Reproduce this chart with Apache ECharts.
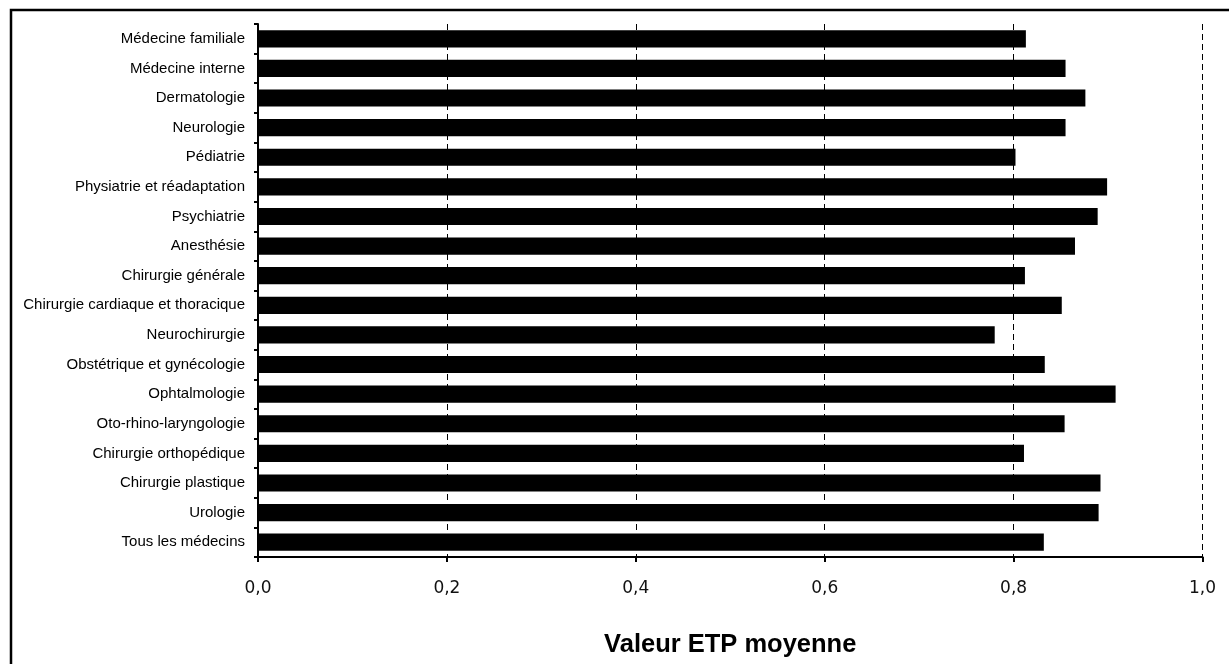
<!DOCTYPE html>
<html>
<head>
<meta charset="utf-8">
<script src="https://cdn.jsdelivr.net/npm/echarts@6/dist/echarts.min.js"></script>
<style>
html,body{margin:0;padding:0;background:#fff;}
#c{width:1229px;height:664px;}
</style>
</head>
<body>
<div id="c"></div>
<script>
const categories = [
  "Médecine familiale",
  "Médecine interne",
  "Dermatologie",
  "Neurologie",
  "Pédiatrie",
  "Physiatrie et réadaptation",
  "Psychiatrie",
  "Anesthésie",
  "Chirurgie générale",
  "Chirurgie cardiaque et thoracique",
  "Neurochirurgie",
  "Obstétrique et gynécologie",
  "Ophtalmologie",
  "Oto-rhino-laryngologie",
  "Chirurgie orthopédique",
  "Chirurgie plastique",
  "Urologie",
  "Tous les médecins"
];
const values = [0.813, 0.855, 0.876, 0.855, 0.802, 0.899, 0.889, 0.865, 0.812, 0.851, 0.780, 0.833, 0.908, 0.854, 0.811, 0.892, 0.890, 0.832];
const axisTitle = "Valeur ETP moyenne";

const chart = echarts.init(document.getElementById('c'), null, {renderer: 'canvas'});
chart.setOption({
  animation: false,
  backgroundColor: '#fff',
  graphic: [{
    type: 'rect',
    shape: {x: 11, y: 10, width: 1240, height: 680},
    style: {fill: 'none', stroke: '#000', lineWidth: 2.5},
    silent: true
  }],
  grid: {left: 258, right: 26.5, top: 24, bottom: 107, containLabel: false},
  xAxis: {
    type: 'value',
    min: 0, max: 1, interval: 0.2,
    name: axisTitle,
    nameLocation: 'middle',
    nameGap: 75,
    nameTextStyle: {fontFamily: 'Liberation Sans, Arial, sans-serif', fontWeight: 'bold', fontSize: 25.5, color: '#000'},
    axisLine: {show: true, lineStyle: {color: '#000', width: 2}},
    axisTick: {show: true, length: 5, lineStyle: {color: '#000', width: 2}},
    axisLabel: {
      fontFamily: 'DejaVu Sans, Verdana, sans-serif', fontSize: 17, color: '#111', margin: 23,
      formatter: v => v.toFixed(1).replace('.', ',')
    },
    splitLine: {show: true, lineStyle: {color: '#000', width: 1, type: [6, 4]}}
  },
  yAxis: {
    type: 'category',
    data: categories,
    inverse: true,
    axisLine: {show: true, lineStyle: {color: '#000', width: 2}},
    axisTick: {show: true, length: 4, lineStyle: {color: '#000', width: 2}},
    axisLabel: {fontFamily: 'Liberation Sans, Arial, sans-serif', fontSize: 15, color: '#000', margin: 13},
    splitLine: {show: false}
  },
  series: [{
    type: 'bar',
    data: values,
    barCategoryGap: '42%',
    itemStyle: {color: '#000'},
    silent: true
  }]
});
</script>
</body>
</html>
